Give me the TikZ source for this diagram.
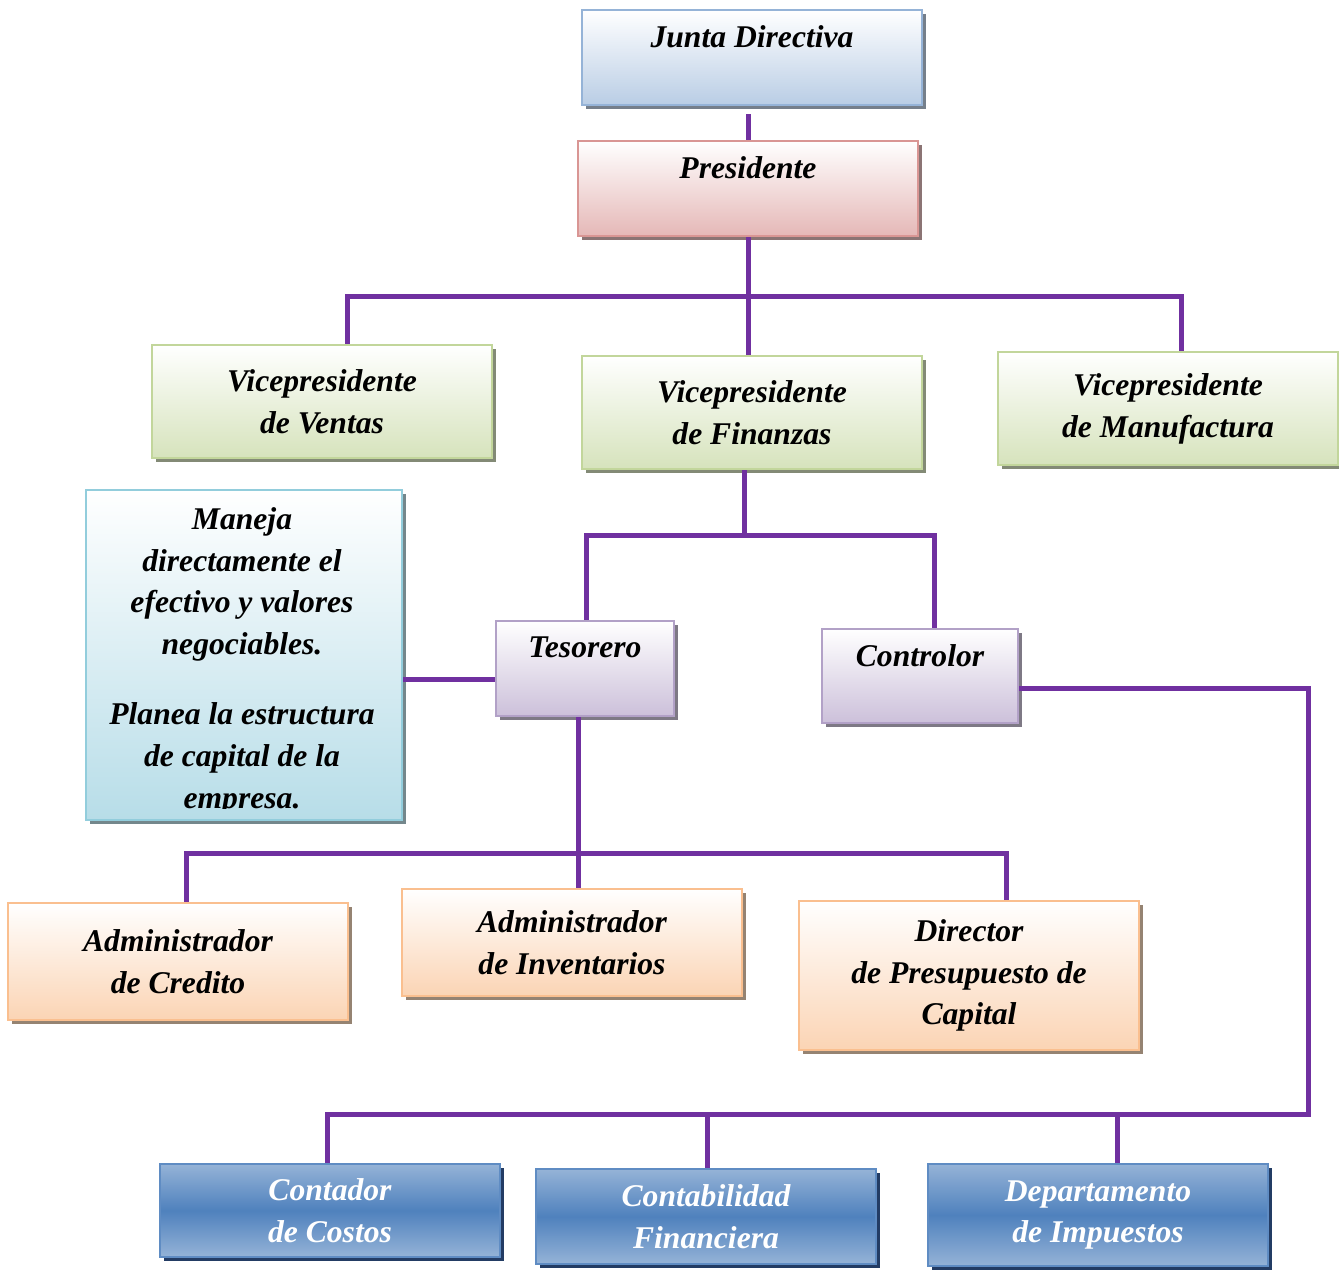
\documentclass[tikz,border=0pt]{standalone}
\usepackage{fontspec}
\setmainfont{Liberation Serif}
\usetikzlibrary{positioning, shadows, calc}
\definecolor{linea}{RGB}{112,48,160}
\definecolor{juntaborde}{RGB}{149,179,215}
\definecolor{juntafondo}{RGB}{185,205,229}
\definecolor{presborde}{RGB}{217,150,148}
\definecolor{presfondo}{RGB}{229,184,183}
\definecolor{vpborde}{RGB}{194,214,155}
\definecolor{vpfondo}{RGB}{214,227,188}
\definecolor{morborde}{RGB}{178,161,199}
\definecolor{morfondo}{RGB}{204,192,218}
\definecolor{naraborde}{RGB}{250,191,143}
\definecolor{narafondo}{RGB}{251,212,180}
\definecolor{notaborde}{RGB}{146,205,220}
\definecolor{notafondo}{RGB}{183,221,232}
\definecolor{azulborde}{RGB}{95,140,195}
\definecolor{azulclaro}{RGB}{149,179,215}
\definecolor{azulmedio}{RGB}{79,129,189}
\definecolor{azulsombra}{RGB}{35,60,100}
\tikzset{
  textocargo/.style={align=center, font=\fontsize{18}{23.8}\selectfont\bfseries\itshape},
  cargo/.style 2 args={rectangle, draw=#1, line width=1.5pt, fill=white, top color=white, bottom color=#2, minimum width=6.8cm, inner sep=2pt, textocargo,
    drop shadow={shadow xshift=0.08cm, shadow yshift=-0.08cm, fill=#2!55!black, opacity=0.9}},
  azulbox/.style={rectangle, draw=azulborde, line width=1.5pt, top color=azulclaro, bottom color=azulclaro, middle color=azulmedio, minimum width=6.8cm, inner sep=2pt, textocargo, text=white,
    drop shadow={shadow xshift=0.08cm, shadow yshift=-0.08cm, fill=azulsombra, opacity=1}},
  conector/.style={draw=linea, line width=0.1cm},
}
\begin{document}
\begin{tikzpicture}[x=0.02cm, y=-0.02cm]
  \useasboundingbox (0,0) rectangle (1339,1269);

  % Junta y presidente
  \node[cargo={juntaborde}{juntafondo}, minimum height=1.9cm] (jd) at (752,57.5) {Junta Directiva\\\mbox{}};
  \node[cargo={presborde}{presfondo}, minimum height=1.9cm] (pres) at (748,188.5) {Presidente\\\mbox{}};

  % Vicepresidentes
  \node[cargo={vpborde}{vpfondo}, minimum height=2.26cm] (vpv) at (322,401.5) {Vicepresidente\\de Ventas};
  \node[cargo={vpborde}{vpfondo}, minimum height=2.26cm] (vpf) at (752,412.5) {Vicepresidente\\de Finanzas};
  \node[cargo={vpborde}{vpfondo}, minimum height=2.26cm] (vpm) at (1168,408.5) {Vicepresidente\\de Manufactura};

  % Tesorero y controlor
  \node[cargo={morborde}{morfondo}, minimum width=3.56cm, minimum height=1.9cm] (tes) at (585,668.5) {Tesorero\\\mbox{}};
  \node[cargo={morborde}{morfondo}, minimum width=3.92cm, minimum height=1.88cm] (ctl) at (920,676) {Controlor\\\mbox{}};

  % Nota del tesorero
  \node[cargo={notaborde}{notafondo}, minimum width=6.32cm, minimum height=6.6cm] (nota) at (244,655) {};
  \begin{scope}
    \clip (nota.north west) rectangle (nota.east |- 0,808);
    \node[textocargo, anchor=north, inner sep=0pt] (notatexto) at (242,507) {Maneja\\directamente el\\efectivo y valores\\negociables.\\[0.56cm]Planea la estructura\\de capital de la\\empresa.};
  \end{scope}

  % Dependientes del tesorero
  \node[cargo={naraborde}{narafondo}, minimum height=2.34cm] (acr) at (178,961.5) {Administrador\\de Credito};
  \node[cargo={naraborde}{narafondo}, minimum height=2.14cm] (ainv) at (572,942.5) {Administrador\\de Inventarios};
  \node[cargo={naraborde}{narafondo}, minimum height=2.98cm] (dpc) at (969,975.5) {Director\\de Presupuesto de\\Capital};

  % Dependientes del controlor
  \node[azulbox, minimum height=1.86cm] (cco) at (330,1210.5) {Contador\\de Costos};
  \node[azulbox, minimum height=1.9cm] (cfi) at (706,1216.5) {Contabilidad\\Financiera};
  \node[azulbox, minimum height=2.04cm] (dim) at (1098,1215) {Departamento\\de Impuestos};

  % Conectores
  \coordinate (bus1izq) at (347,296);
  \coordinate (bus1der) at (1181,296);
  \coordinate (bus2izq) at (586,535);
  \coordinate (bus2med) at (744,535);
  \coordinate (bus2der) at (934,535);
  \coordinate (bus3izq) at (186,853);
  \coordinate (bus3med) at (578,853);
  \coordinate (bus3der) at (1006,853);
  \coordinate (bus4esq) at (1308,688);
  \coordinate (bus4baj) at (1308,1114);
  \coordinate (bus4izq) at (327,1114);
  \coordinate (bus4med) at (707,1114);
  \coordinate (bus4dim) at (1117,1114);

  \draw[conector] (pres.north) -- ([yshift=-0.16cm]pres.north |- jd.south);
  \draw[conector] (pres.south) -- (pres.south |- vpf.north);
  \draw[conector] (bus1izq |- vpv.north) -- (bus1izq) -- (bus1der) -- (bus1der |- vpm.north);
  \draw[conector] (bus2med |- vpf.south) -- (bus2med);
  \draw[conector] (bus2izq |- tes.north) -- (bus2izq) -- (bus2der) -- (bus2der |- ctl.north);
  \draw[conector] (nota.east |- 0,679) -- (tes.west |- 0,679);
  \draw[conector] (bus3med |- tes.south) -- (bus3med |- ainv.north);
  \draw[conector] (bus3izq |- acr.north) -- (bus3izq) -- (bus3der) -- (bus3der |- dpc.north);
  \draw[conector] (ctl.east |- bus4esq) -- (bus4esq) -- (bus4baj) -- (bus4izq) -- (bus4izq |- cco.north);
  \draw[conector] (bus4med) -- (bus4med |- cfi.north);
  \draw[conector] (bus4dim) -- (bus4dim |- dim.north);
\end{tikzpicture}
\end{document}
